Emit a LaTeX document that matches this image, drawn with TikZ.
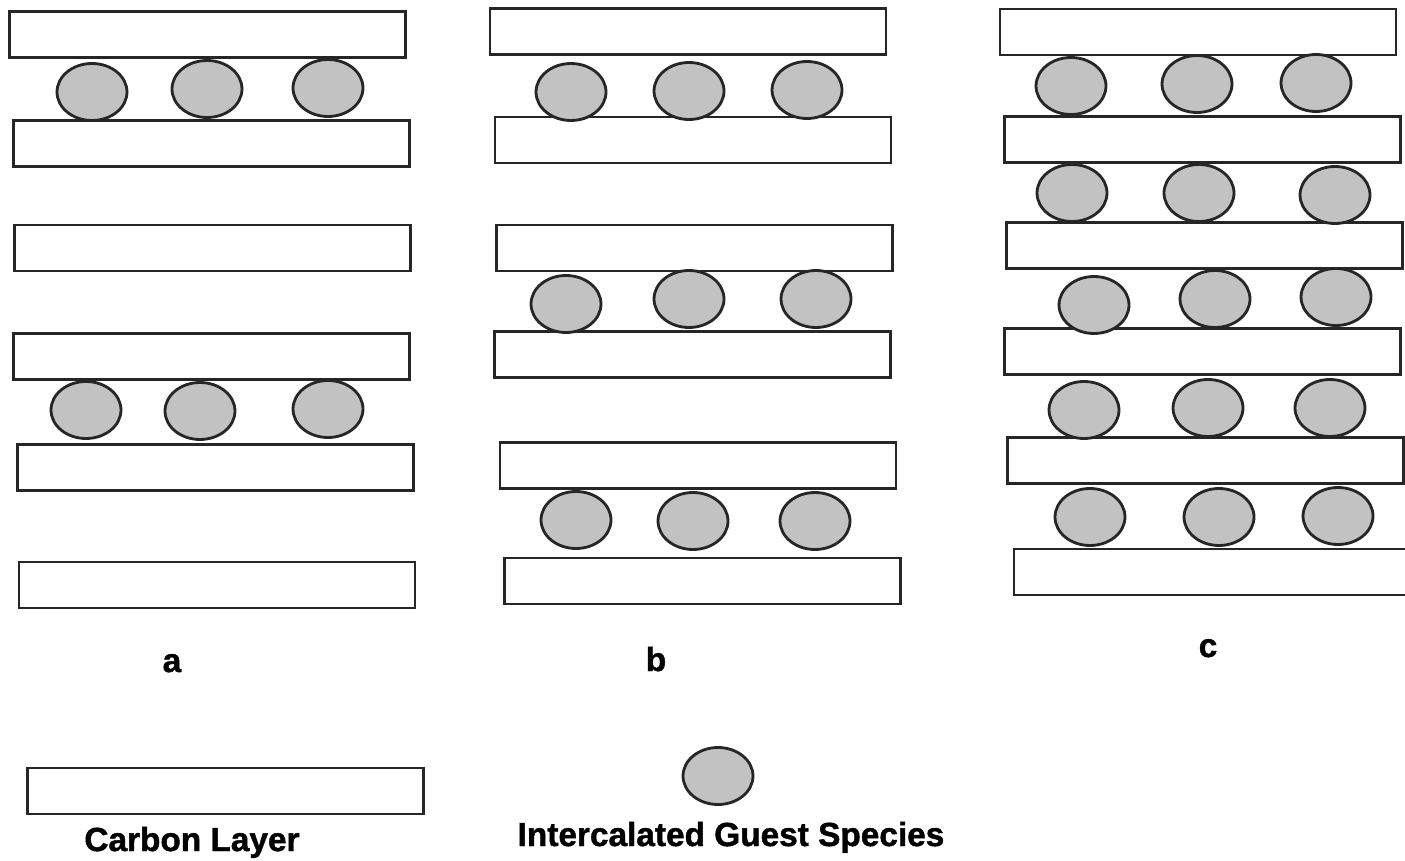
\documentclass[tikz,border=0pt]{standalone}
\usepackage{fontspec}
\setmainfont{Liberation Sans}
\newfontfamily\heavyfont{Liberation Sans Bold}[FakeBold=1.3]
\usetikzlibrary{shapes.geometric}

\begin{document}
\begin{tikzpicture}[
  x=0.02cm, y=-0.02cm,
  layer/.style={rectangle, draw=black!85, line width=1.3pt, fill=white,
    minimum width=7.92cm, minimum height=0.92cm, inner sep=0pt},
  guest/.style={ellipse, draw=black!85, line width=1.6pt, fill=gray!48,
    minimum width=1.40cm, minimum height=1.14cm, inner sep=0pt},
  stagelabel/.style={font=\heavyfont\fontsize{19}{22}\selectfont, anchor=base},
  legendtext/.style={font=\heavyfont\fontsize{19}{22}\selectfont, anchor=base}
]
  %% --- page frame (pixel units of the original) ---
  \useasboundingbox (0,0) rectangle (1405,861);

  %% --- carbon layers, three stages side by side ---
  \foreach \cx/\cy [count=\i] in {
    207.5/34.5, 211.5/143.5, 212.5/248, 211.5/356.5, 215.5/467.5, 217/585}
    \node[layer] (a\i) at (\cx,\cy) {};
  \foreach \cx/\cy [count=\i] in {
    688/31.5, 693/140, 694.5/248, 692.5/354.5, 698/465.5, 702.5/581}
    \node[layer] (b\i) at (\cx,\cy) {};
  \foreach \cx/\cy [count=\i] in {
    1198/32, 1202.5/139.5, 1204.5/245.5, 1202.5/351.5, 1205.5/460.5, 1212/572}
    \node[layer] (c\i) at (\cx,\cy) {};

  %% --- guest species between the layers ---
  \foreach \gx/\gy [count=\i] in {
    92/92, 207/89, 328/88,
    86/410, 200/411, 328/409}
    \node[guest] (ga\i) at (\gx,\gy) {};
  \foreach \gx/\gy [count=\i] in {
    571/92, 689/91, 807/90,
    566/304, 689/299, 816/299,
    576/520, 693/521, 815/521}
    \node[guest] (gb\i) at (\gx,\gy) {};
  \foreach \gx/\gy [count=\i] in {
    1071/86, 1197/84, 1316/83,
    1072/193, 1199/193, 1335/195,
    1094/305, 1215/299, 1336/297,
    1084/410, 1208/408, 1330/408,
    1090/517, 1219/517, 1338/516}
    \node[guest] (gc\i) at (\gx,\gy) {};

  %% --- stage letters ---
  \node[stagelabel] (lbla) at (172,672) {a};
  \node[stagelabel] (lblb) at (656,671) {b};
  \node[stagelabel] (lblc) at (1208,657) {c};

  %% --- legend ---
  \node[layer] (keylayer) at (225.5,791) {};
  \node[legendtext] (keylayertext) at (192,851) {Carbon Layer};
  \node[guest] (keyguest) at (718,776) {};
  \node[legendtext] (keyguesttext) at (731,846) {Intercalated Guest Species};
\end{tikzpicture}
\end{document}
